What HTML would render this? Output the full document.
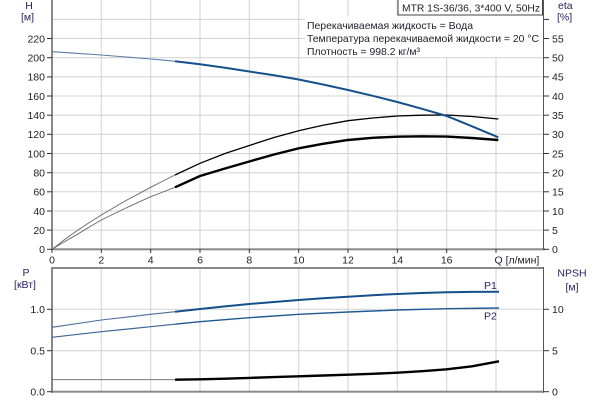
<!DOCTYPE html>
<html><head><meta charset="utf-8">
<style>
html,body{margin:0;padding:0;background:#fff;}
svg{display:block;}
text{font-family:"Liberation Sans","DejaVu Sans",sans-serif;font-size:10.5px;fill:#1e1e28;}
.t{fill:#2a2060;}
</style></head>
<body>
<svg width="600" height="400" viewBox="0 0 600 400" xmlns="http://www.w3.org/2000/svg">
<rect width="600" height="400" fill="#fff"/>
<!-- TOP CHART GRID -->
<g stroke="#d2d2d2" stroke-width="1">
  <line x1="101.3" y1="0" x2="101.3" y2="249"/>
  <line x1="150.7" y1="0" x2="150.7" y2="249"/>
  <line x1="200" y1="0" x2="200" y2="249"/>
  <line x1="249.3" y1="0" x2="249.3" y2="249"/>
  <line x1="298.7" y1="0" x2="298.7" y2="249"/>
  <line x1="348" y1="0" x2="348" y2="249"/>
  <line x1="397.3" y1="0" x2="397.3" y2="249"/>
  <line x1="446.7" y1="0" x2="446.7" y2="249"/>
  <line x1="496" y1="0" x2="496" y2="249"/>
  <line x1="52" y1="230.1" x2="544" y2="230.1"/>
  <line x1="52" y1="211" x2="544" y2="211"/>
  <line x1="52" y1="191.8" x2="544" y2="191.8"/>
  <line x1="52" y1="172.7" x2="544" y2="172.7"/>
  <line x1="52" y1="153.5" x2="544" y2="153.5"/>
  <line x1="52" y1="134.3" x2="544" y2="134.3"/>
  <line x1="52" y1="115.2" x2="544" y2="115.2"/>
  <line x1="52" y1="96" x2="544" y2="96"/>
  <line x1="52" y1="76.9" x2="544" y2="76.9"/>
  <line x1="52" y1="57.7" x2="544" y2="57.7"/>
  <line x1="52" y1="38.5" x2="544" y2="38.5"/>
  <line x1="52" y1="19.4" x2="544" y2="19.4"/>
</g>
<!-- info box -->
<rect x="305" y="16" width="238" height="41" fill="#fff"/>
<rect x="398" y="-1" width="144.5" height="16" fill="#fff" stroke="#444" stroke-width="1"/>
<text x="402" y="11.5" textLength="138" lengthAdjust="spacingAndGlyphs">MTR 1S-36/36, 3*400 V, 50Hz</text>
<text x="307" y="29" textLength="166" lengthAdjust="spacingAndGlyphs">Перекачиваемая жидкость = Вода</text>
<text x="307" y="42" textLength="232" lengthAdjust="spacingAndGlyphs">Температура перекачиваемой жидкости = 20 °C</text>
<text x="307" y="55" textLength="113" lengthAdjust="spacingAndGlyphs">Плотность = 998.2 кг/м³</text>

<!-- TOP AXES -->
<rect x="51" y="0" width="2" height="250.3" fill="#888"/>
<rect x="51" y="248.3" width="494" height="2" fill="#888"/>
<line x1="543.5" y1="0" x2="543.5" y2="250" stroke="#555" stroke-width="1"/>
<g stroke="#333" stroke-width="1">
  <line x1="47" y1="230.1" x2="52" y2="230.1"/><line x1="47" y1="211" x2="52" y2="211"/>
  <line x1="47" y1="191.8" x2="52" y2="191.8"/><line x1="47" y1="172.7" x2="52" y2="172.7"/>
  <line x1="47" y1="153.5" x2="52" y2="153.5"/><line x1="47" y1="134.3" x2="52" y2="134.3"/>
  <line x1="47" y1="115.2" x2="52" y2="115.2"/><line x1="47" y1="96" x2="52" y2="96"/>
  <line x1="47" y1="76.9" x2="52" y2="76.9"/><line x1="47" y1="57.7" x2="52" y2="57.7"/>
  <line x1="47" y1="38.5" x2="52" y2="38.5"/><line x1="47" y1="249.3" x2="52" y2="249.3"/>
  <line x1="544" y1="249.3" x2="549" y2="249.3"/><line x1="544" y1="230.1" x2="549" y2="230.1"/>
  <line x1="544" y1="211" x2="549" y2="211"/><line x1="544" y1="191.8" x2="549" y2="191.8"/>
  <line x1="544" y1="172.7" x2="549" y2="172.7"/><line x1="544" y1="153.5" x2="549" y2="153.5"/>
  <line x1="544" y1="134.3" x2="549" y2="134.3"/><line x1="544" y1="115.2" x2="549" y2="115.2"/>
  <line x1="544" y1="96" x2="549" y2="96"/><line x1="544" y1="76.9" x2="549" y2="76.9"/>
  <line x1="544" y1="57.7" x2="549" y2="57.7"/><line x1="544" y1="38.5" x2="549" y2="38.5"/>
  <line x1="544" y1="19.4" x2="549" y2="19.4"/>
  <line x1="52" y1="249" x2="52" y2="253"/><line x1="101.3" y1="249" x2="101.3" y2="253"/>
  <line x1="150.7" y1="249" x2="150.7" y2="253"/><line x1="200" y1="249" x2="200" y2="253"/>
  <line x1="249.3" y1="249" x2="249.3" y2="253"/><line x1="298.7" y1="249" x2="298.7" y2="253"/>
  <line x1="348" y1="249" x2="348" y2="253"/><line x1="397.3" y1="249" x2="397.3" y2="253"/>
  <line x1="446.7" y1="249" x2="446.7" y2="253"/><line x1="496" y1="249" x2="496" y2="253"/>
</g>
<!-- left tick labels -->
<g text-anchor="end">
  <text x="45" y="253">0</text><text x="45" y="233.9">20</text><text x="45" y="214.8">40</text>
  <text x="45" y="195.6">60</text><text x="45" y="176.5">80</text><text x="45" y="157.3">100</text>
  <text x="45" y="138.1">120</text><text x="45" y="119">140</text><text x="45" y="99.8">160</text>
  <text x="45" y="80.7">180</text><text x="45" y="61.5">200</text><text x="45" y="42.3">220</text>
</g>
<g text-anchor="start">
  <text x="552" y="253">0</text><text x="552" y="233.9">5</text><text x="552" y="214.8">10</text>
  <text x="552" y="195.6">15</text><text x="552" y="176.5">20</text><text x="552" y="157.3">25</text>
  <text x="552" y="138.1">30</text><text x="552" y="119">35</text><text x="552" y="99.8">40</text>
  <text x="552" y="80.7">45</text><text x="552" y="61.5">50</text><text x="552" y="42.3">55</text>
</g>
<g text-anchor="middle">
  <text x="52" y="263.5">0</text><text x="101.3" y="263.5">2</text><text x="150.7" y="263.5">4</text>
  <text x="200" y="263.5">6</text><text x="249.3" y="263.5">8</text><text x="298.7" y="263.5">10</text>
  <text x="348" y="263.5">12</text><text x="397.3" y="263.5">14</text><text x="446.7" y="263.5">16</text>
</g>
<text x="494.5" y="263.5">Q [л/мин]</text>
<text class="t" x="29" y="9" text-anchor="middle">H</text>
<text class="t" x="27.5" y="20.5" text-anchor="middle">[м]</text>
<text class="t" x="558" y="9">eta</text>
<text class="t" x="557" y="20.5">[%]</text>

<!-- TOP CURVES -->
<!-- eta upper -->
<polyline fill="none" stroke="#666" stroke-width="0.9" points="52,249.3 64,240 76.5,231 89,222.8 101.3,215 126,200.5 150.7,187.3 163,181 175,175"/>
<polyline fill="none" stroke="#000" stroke-width="1.3" points="175,175 200,163.3 225,153.5 249.3,145.5 274,137.5 298.7,130.7 323,125.2 348,120.7 372.7,118 397.3,116 422,115.2 446.7,115 472,116.5 498.3,119"/>
<!-- eta lower -->
<polyline fill="none" stroke="#666" stroke-width="0.9" points="52,249.3 64,242 76.5,234.8 89,227.3 101.3,220 126,208 150.7,196.7 163,192 175,187.3"/>
<polyline fill="none" stroke="#000" stroke-width="2.4" points="175,187.3 200,176 225,168.5 249.3,161.5 274,154.5 298.7,148.3 323,143.8 348,140 372.7,137.8 397.3,136.7 422,136.3 446.7,136.6 472,138 498.3,140"/>
<!-- H curve -->
<polyline fill="none" stroke="#5a7da6" stroke-width="1.1" points="52,51.7 76.5,53.3 101.3,55 126,57 150.7,59 163,60.1 175,61.3"/>
<polyline fill="none" stroke="#15508c" stroke-width="2" points="175,61.3 200,64.3 225,67.7 249.3,71.5 274,75.3 298.7,79.5 323,84.5 348,90 372.7,95.8 397.3,102 422,108.8 446.7,116 472,126.3 498.3,137.3"/>

<!-- BOTTOM CHART GRID -->
<g stroke="#d2d2d2" stroke-width="1">
  <line x1="101.3" y1="268" x2="101.3" y2="391"/>
  <line x1="150.7" y1="268" x2="150.7" y2="391"/>
  <line x1="200" y1="268" x2="200" y2="391"/>
  <line x1="249.3" y1="268" x2="249.3" y2="391"/>
  <line x1="298.7" y1="268" x2="298.7" y2="391"/>
  <line x1="348" y1="268" x2="348" y2="391"/>
  <line x1="397.3" y1="268" x2="397.3" y2="391"/>
  <line x1="446.7" y1="268" x2="446.7" y2="391"/>
  <line x1="496" y1="268" x2="496" y2="391"/>
  <line x1="52" y1="309.3" x2="544" y2="309.3"/>
  <line x1="52" y1="350.7" x2="544" y2="350.7"/>
</g>
<rect x="51" y="267" width="493" height="2" fill="#888"/>
<rect x="51" y="267" width="2" height="126" fill="#888"/>
<rect x="51" y="390.7" width="493" height="2" fill="#888"/>
<line x1="543.5" y1="267" x2="543.5" y2="392.7" stroke="#555" stroke-width="1"/>
<g stroke="#333" stroke-width="1">
  <line x1="47" y1="309.3" x2="52" y2="309.3"/><line x1="47" y1="350.7" x2="52" y2="350.7"/><line x1="47" y1="391.7" x2="52" y2="391.7"/>
  <line x1="544" y1="309.3" x2="549" y2="309.3"/><line x1="544" y1="350.7" x2="549" y2="350.7"/><line x1="544" y1="391.7" x2="549" y2="391.7"/>
</g>
<g text-anchor="end">
  <text x="45" y="313">1.0</text><text x="45" y="354.5">0.5</text><text x="45" y="395.5">0.0</text>
</g>
<g text-anchor="start">
  <text x="552" y="313">10</text><text x="552" y="354.5">5</text><text x="552" y="395.5">0</text>
</g>
<text class="t" x="26" y="276" text-anchor="middle">P</text>
<text class="t" x="25" y="288" text-anchor="middle">[кВт]</text>
<text class="t" x="572" y="276.5" text-anchor="middle">NPSH</text>
<text class="t" x="572" y="290.5" text-anchor="middle">[м]</text>

<!-- BOTTOM CURVES -->
<polyline fill="none" stroke="#4a6f9c" stroke-width="1.1" points="52,327.3 101.3,320 150.7,314.3 175,311.7"/>
<polyline fill="none" stroke="#15508c" stroke-width="2" points="175,311.7 200,309 225,306.4 249.3,304 274,302 298.7,300 323,298.3 348,296.7 372.7,295.2 397.3,294 422,293 446.7,292.3 472,291.9 499,291.7"/>
<polyline fill="none" stroke="#3d6496" stroke-width="1.2" points="52,337.3 101.3,331.7 150.7,326.7 175,324.2"/>
<polyline fill="none" stroke="#1f5a94" stroke-width="1.4" points="175,324.2 200,321.7 249.3,317.7 298.7,314.3 348,312 397.3,310 446.7,308.7 499,308"/>
<line x1="52" y1="379.7" x2="175" y2="379.7" stroke="#666" stroke-width="0.9"/>
<polyline fill="none" stroke="#000" stroke-width="2.4" points="175,379.7 200,379.3 225,378.7 249.3,377.9 274,377.1 298.7,376.3 323,375.5 348,374.7 372.7,373.8 397.3,372.7 422,371.2 446.7,369.3 472,366.3 499,361.3"/>
<text class="t" x="484" y="289">P1</text>
<text class="t" x="484" y="319.5">P2</text>
</svg>
</body></html>
